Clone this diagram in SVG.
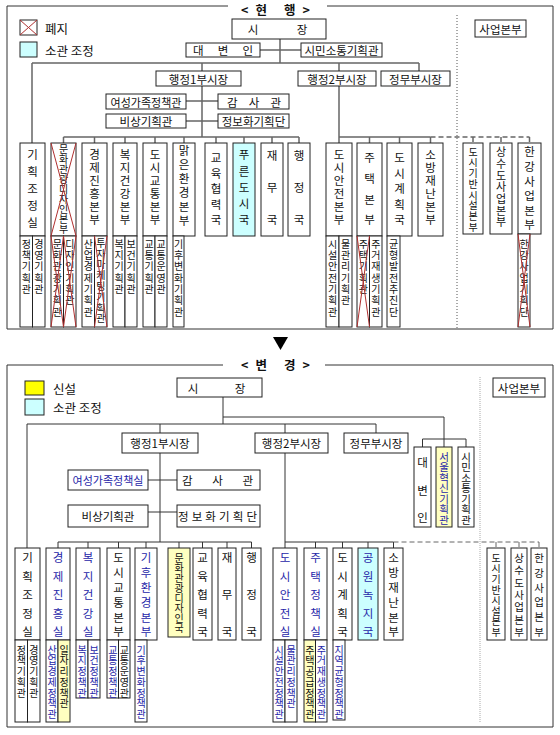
<svg xmlns="http://www.w3.org/2000/svg" width="560" height="735" viewBox="0 0 560 735">
<style>
text{font-family:"Noto Sans CJK KR","Noto Sans",sans-serif;fill:#111;dominant-baseline:central}
.b{fill:#fff;stroke:#222;stroke-width:1}
.c{fill:#ccffff}
.y{fill:#ffffc0}
.h{font-size:11.5px;text-anchor:middle}
.v{font-size:11.5px;writing-mode:vertical-rl;text-anchor:start}
.s{font-size:10px;writing-mode:vertical-rl;text-anchor:start;letter-spacing:1.3px}
.s2{font-size:10px;writing-mode:vertical-rl;text-anchor:start;letter-spacing:0.7px}
.lg{font-size:12.5px}
.ttl{font-size:12.5px;font-weight:bold}
.bl{fill:#2626a8}
.x{stroke:#b03030;stroke-width:1;fill:none}
.ln{stroke:#666;stroke-width:1.5;fill:none}
.ln2{stroke:#333;stroke-width:1;fill:none}
.dash{stroke-dasharray:5,3}
.frame{stroke:#333;stroke-width:1;fill:none}
.dot{stroke:#555;stroke-width:1;stroke-dasharray:1,2;fill:none}
.dot2{stroke:#aaa;stroke-width:1;stroke-dasharray:1,1;fill:none}
</style>
<rect width="560" height="735" fill="#fff"/>

<!-- ================= TOP CHART (현행) ================= -->
<g id="frame-top">
<path class="frame" d="M228,6 H7 V329 H553 V6 H327"/>
<text class="ttl" x="241" y="9.5" textLength="69" lengthAdjust="spacing">&lt;현 행&gt;</text>
<path class="dot" d="M457,15 V328"/>
</g>
<g id="legend-top">
<rect class="b" x="20" y="20" width="17" height="15"/>
<path class="x" d="M20,20 L37,35 M37,20 L20,35"/>
<text class="lg" x="45" y="28">폐지</text>
<rect class="b c" x="20" y="42" width="17" height="15"/>
<text class="lg" x="45" y="50">소관 조정</text>
</g>

<g id="connectors-top">
<path class="ln" d="M280,39 V63 M260,50 H301 M32,63 H419 M32,63 V143 M202,63 V71 M339,63 V71 M419,63 V71"/>
<path class="ln" d="M202,86 V137 M186,101 H218 M186,121 H218"/>
<path class="ln" d="M63.5,137 H299 M63.5,137 V143 M94.5,137 V143 M125,137 V143 M155,137 V143 M184,137 V143 M216,137 V143 M244,137 V143 M272,137 V143 M299,137 V143"/>
<path class="ln" d="M339,86 V143 M339,137 H430.5 M369.5,137 V143 M399.5,137 V143 M430.5,137 V143"/>
<path class="ln dash" d="M430.5,137 H529.5 M473,137 V143 M501,137 V143 M529.5,137 V143"/>
</g>

<g id="t-mayor"><rect class="b" x="232" y="19" width="94" height="20"/><text class="h" x="279" y="29"><tspan x="253">시</tspan><tspan x="302">장</tspan></text></g>
<g id="t-spokesman"><rect class="b" x="186" y="43" width="74" height="14"/><text class="h" x="193" y="50" style="text-anchor:start" textLength="60" lengthAdjust="spacing">대 변 인</text></g>
<g id="t-civic"><rect class="b" x="301" y="43" width="81" height="14"/><text class="h" x="341.5" y="50">시민소통기획관</text></g>
<g id="t-vm1"><rect class="b" x="156" y="71" width="85" height="15"/><text class="h" x="198.5" y="78.5">행정1부시장</text></g>
<g id="t-vm2"><rect class="b" x="298" y="71" width="78" height="15"/><text class="h" x="337" y="78.5">행정2부시장</text></g>
<g id="t-vmp"><rect class="b" x="381" y="71" width="69" height="15"/><text class="h" x="415.5" y="78.5">정무부시장</text></g>
<g id="t-biz"><rect class="b" x="475" y="20" width="51" height="17"/><text class="h" x="500.5" y="28.5">사업본부</text></g>
<g id="t-women"><rect class="b" x="106" y="94" width="80" height="15"/><text class="h" x="146" y="101.5" style="font-size:11px">여성가족정책관</text></g>
<g id="t-audit"><rect class="b" x="218" y="94" width="71" height="15"/><text class="h" x="227" y="101.5" style="text-anchor:start" textLength="54" lengthAdjust="spacing">감 사 관</text></g>
<g id="t-emerg"><rect class="b" x="106" y="114" width="80" height="14"/><text class="h" x="146" y="121">비상기획관</text></g>
<g id="t-info"><rect class="b" x="218" y="114" width="71" height="14"/><text class="h" x="253.5" y="121">정보화기획단</text></g>

<g id="t-plan">
<rect class="b" x="20" y="143" width="25" height="93"/>
<text class="v" x="32.5" y="149.25" style="letter-spacing:5.5px">기획조정실</text>
<rect class="b" x="20" y="236" width="12.5" height="91"/><rect class="b" x="32.5" y="236" width="12.5" height="91"/>
<text class="s" x="26.25" y="239">정책기획관</text>
<text class="s" x="38.75" y="239">경영기획관</text>
</g>
<g id="t-culture">
<rect class="b" x="51" y="143" width="25" height="93"/>
<text class="v" x="63.5" y="144" style="font-size:10px">문화관광디자인본부</text>
<rect class="b" x="51" y="236" width="12.5" height="91"/><rect class="b" x="63.5" y="236" width="12.5" height="91"/>
<text class="s" x="57.25" y="239">문화관광기획관</text>
<text class="s" x="69.75" y="239">디자인기획관</text>
<path class="x" d="M51,143 L76,236 M76,143 L51,236 M51,236 L63.5,327 M63.5,236 L51,327 M63.5,236 L76,327 M76,236 L63.5,327"/>
</g>
<g id="t-economy">
<rect class="b" x="82" y="143" width="25" height="93"/>
<text class="v" x="94.5" y="149.25" style="letter-spacing:1.5px">경제진흥본부</text>
<rect class="b" x="82" y="236" width="12.5" height="91"/><rect class="b" x="94.5" y="236" width="12.5" height="91"/>
<text class="s" x="88.25" y="239">산업경제기획관</text>
<text class="s" x="100.75" y="238" style="letter-spacing:0.8px">투자마케팅기획관</text>
<path class="x" d="M94.5,236 L107,327 M107,236 L94.5,327"/>
</g>
<g id="t-welfare">
<rect class="b" x="113" y="143" width="24" height="93"/>
<text class="v" x="125" y="149.25" style="letter-spacing:1.5px">복지건강본부</text>
<rect class="b" x="113" y="236" width="12" height="91"/><rect class="b" x="125" y="236" width="12" height="91"/>
<text class="s" x="119" y="239">복지기획관</text>
<text class="s" x="131" y="239">보건기획관</text>
</g>
<g id="t-transport">
<rect class="b" x="143" y="143" width="24" height="93"/>
<text class="v" x="155" y="149.25" style="letter-spacing:1.5px">도시교통본부</text>
<rect class="b" x="143" y="236" width="12" height="91"/><rect class="b" x="155" y="236" width="12" height="91"/>
<text class="s" x="149" y="239">교통기획관</text>
<text class="s" x="161" y="239">교통운영관</text>
</g>
<g id="t-env">
<rect class="b" x="173" y="143" width="22" height="93"/>
<text class="v" x="184" y="144.5" style="letter-spacing:2.5px">맑은환경본부</text>
<rect class="b" x="173" y="236" width="11" height="91"/>
<text class="s" x="178.5" y="239">기후변화기획관</text>
</g>
<g id="t-edu"><rect class="b" x="205" y="143" width="22" height="93"/>
<text class="v" x="216" y="152.25" style="letter-spacing:4px">교육협력국</text></g>
<g id="t-green"><rect class="b c" x="233" y="143" width="22" height="93"/>
<text class="v" x="244" y="149.25" style="letter-spacing:4.75px">푸른도시국</text></g>
<g id="t-finance"><rect class="b" x="261" y="143" width="22" height="93"/>
<text class="v" x="272" y="150.25" style="letter-spacing:20.5px">재무국</text></g>
<g id="t-admin"><rect class="b" x="288" y="143" width="22" height="93"/>
<text class="v" x="299" y="150.25" style="letter-spacing:20.5px">행정국</text></g>
<g id="t-safety">
<rect class="b" x="326" y="143" width="26" height="93"/>
<text class="v" x="339" y="149.25" style="letter-spacing:1.5px">도시안전본부</text>
<rect class="b" x="326" y="236" width="13" height="91"/><rect class="b" x="339" y="236" width="13" height="91"/>
<text class="s" x="332.5" y="239">시설안전기획관</text>
<text class="s" x="345.5" y="239">물관리기획관</text>
</g>
<g id="t-housing">
<rect class="b" x="357" y="143" width="25" height="93"/>
<text class="v" x="369.5" y="152.25" style="letter-spacing:9.2px">주택본부</text>
<rect class="b" x="357" y="236" width="12.5" height="91"/><rect class="b" x="369.5" y="236" width="12.5" height="91"/>
<text class="s" x="363.25" y="239">주택기획관</text>
<text class="s" x="375.75" y="239">주거재생기획관</text>
<path class="x" d="M357,236 L369.5,327 M369.5,236 L357,327"/>
</g>
<g id="t-cityplan">
<rect class="b" x="387" y="143" width="25" height="93"/>
<text class="v" x="399.5" y="152.25" style="letter-spacing:4px">도시계획국</text>
<rect class="b" x="387" y="236" width="13" height="91"/>
<text class="s" x="393.5" y="239">균형발전추진단</text>
</g>
<g id="t-fire"><rect class="b" x="418" y="143" width="25" height="93"/>
<text class="v" x="430.5" y="149.25" style="letter-spacing:1.5px">소방재난본부</text></g>
<g id="t-infra"><rect class="b" x="463" y="143" width="20" height="91"/>
<text class="v" x="473" y="147" style="font-size:10px;letter-spacing:0.7px">도시기반시설본부</text></g>
<g id="t-water"><rect class="b" x="490" y="143" width="22" height="91"/>
<text class="v" x="501" y="146.5" style="font-size:11px;letter-spacing:0.67px">상수도사업본부</text></g>
<g id="t-hangang">
<rect class="b" x="518" y="143" width="23" height="91"/>
<text class="v" x="529.5" y="146.25" style="letter-spacing:3.1px">한강사업본부</text>
<rect class="b" x="518" y="234" width="12" height="93"/>
<text class="s" x="524" y="239">한강사업기획단</text>
<path class="x" d="M518,234 L530,327 M530,234 L518,327"/>
</g>

<!-- arrow -->
<polygon points="273,337 288,337 280.5,350" fill="#000"/>

<!-- ================= BOTTOM CHART (변경) ================= -->
<g id="frame-bottom">
<path class="frame" d="M223,365 H7 V727 H553 V365 H325"/>
<text class="ttl" x="241" y="364" textLength="69" lengthAdjust="spacing">&lt;변 경&gt;</text>
<path class="dot2" d="M480,377 V722"/>
</g>
<g id="legend-bottom">
<rect x="25" y="381" width="19" height="14" fill="#ffff00" stroke="#222"/>
<text class="lg" x="53" y="388">신설</text>
<rect class="b c" x="25" y="399" width="19" height="16"/>
<text class="lg" x="53" y="407">소관 조정</text>
</g>

<g id="connectors-bottom">
<path class="ln2" d="M223,397 V424 M223,417 H444 V447 M422.5,439 H466 M422.5,439 V447 M466,439 V447"/>
<path class="ln2" d="M27,424 H376 M27,424 V548 M160,424 V433 M285,424 V433 M376,424 V433"/>
<path class="ln2" d="M160,453 V542 M148,480 H177 M148,512 H177"/>
<path class="ln2" d="M58,542 H251.5 M58,542 V548 M88,542 V548 M118.5,542 V548 M146,542 V548 M179,542 V548 M202.5,542 V548 M227,542 V548 M251.5,542 V548"/>
<path class="ln2" d="M285,453 V548 M285,542 H393.5 M315.5,542 V548 M342.5,542 V548 M368,542 V548 M393.5,542 V548"/>
<path class="ln2 dash" d="M393.5,542 H539 M496,542 V548 M519,542 V548 M539,542 V548" style="stroke:#666"/>
</g>

<g id="b-mayor"><rect class="b" x="177" y="378" width="85" height="19"/><text class="h" x="219" y="387.5"><tspan x="193">시</tspan><tspan x="240">장</tspan></text></g>
<g id="b-biz"><rect class="b" x="493" y="378" width="52" height="19"/><text class="h" x="519" y="387.5">사업본부</text></g>
<g id="b-vm1"><rect class="b" x="122" y="433" width="76" height="20"/><text class="h" x="160" y="443">행정1부시장</text></g>
<g id="b-vm2"><rect class="b" x="255" y="433" width="73" height="20"/><text class="h" x="291.5" y="443">행정2부시장</text></g>
<g id="b-vmp"><rect class="b" x="344" y="433" width="64" height="20"/><text class="h" x="376" y="443">정무부시장</text></g>
<g id="b-women"><rect class="b" x="68" y="470" width="80" height="20"/><text class="h bl" x="108" y="480" style="font-size:11px">여성가족정책실</text></g>
<g id="b-audit"><rect class="b" x="177" y="470" width="83" height="20"/><text class="h" x="182" y="480" style="text-anchor:start" textLength="71" lengthAdjust="spacing">감 사 관</text></g>
<g id="b-emerg"><rect class="b" x="68" y="505" width="80" height="22"/><text class="h" x="108" y="516">비상기획관</text></g>
<g id="b-info"><rect class="b" x="177" y="505" width="83" height="22"/><text class="h" x="178" y="516" style="text-anchor:start" textLength="79" lengthAdjust="spacing">정보화기획단</text></g>

<g id="b-spokesman"><rect class="b" x="414" y="447" width="17" height="80"/>
<text class="v" x="422.5" y="457.25" style="letter-spacing:16px">대변인</text></g>
<g id="b-innov"><rect class="b y" x="436" y="447" width="16" height="80"/>
<text class="v bl" x="444" y="451.75" style="font-size:10.5px">서울혁신기획관</text></g>
<g id="b-civic"><rect class="b" x="458" y="447" width="16" height="80"/>
<text class="v" x="466" y="451.75" style="font-size:10.5px">시민소통기획관</text></g>

<g id="b-plan">
<rect class="b" x="15" y="548" width="25" height="92"/>
<text class="v" x="27.5" y="552.25" style="letter-spacing:7px">기획조정실</text>
<rect class="b" x="15" y="640" width="12.5" height="82"/><rect class="b" x="27.5" y="640" width="12.5" height="82"/>
<text class="s2" x="21.25" y="645">정책기획관</text>
<text class="s2" x="33.75" y="645">경영기획관</text>
</g>
<g id="b-economy">
<rect class="b" x="46" y="548" width="24" height="92"/>
<text class="v bl" x="58" y="552.25" style="letter-spacing:7px">경제진흥실</text>
<rect class="b" x="46" y="640" width="12" height="82"/><rect class="b y" x="58" y="640" width="12" height="82"/>
<text class="s2 bl" x="52" y="645">산업경제정책관</text>
<text class="s2" x="64" y="645">일자리정책관</text>
</g>
<g id="b-welfare">
<rect class="b" x="76" y="548" width="24" height="92"/>
<text class="v bl" x="88" y="552.25" style="letter-spacing:7px">복지건강실</text>
<rect class="b" x="76" y="640" width="12" height="58"/><rect class="b" x="88" y="640" width="12" height="58"/>
<text class="s2 bl" x="82" y="645">복지정책관</text>
<text class="s2 bl" x="94" y="645">보건정책관</text>
</g>
<g id="b-transport">
<rect class="b" x="107" y="548" width="23" height="92"/>
<text class="v" x="118.5" y="552.25" style="letter-spacing:3.3px">도시교통본부</text>
<rect class="b" x="107" y="640" width="11.5" height="58"/><rect class="b" x="118.5" y="640" width="11.5" height="58"/>
<text class="s2 bl" x="112.75" y="645">교통정책관</text>
<text class="s2" x="124.25" y="645">교통운영관</text>
</g>
<g id="b-climate">
<rect class="b" x="135" y="548" width="22" height="92"/>
<text class="v bl" x="146" y="552.25" style="letter-spacing:3.3px">기후환경본부</text>
<rect class="b" x="135" y="640" width="12" height="82"/>
<text class="s2 bl" x="141" y="645">기후변화정책관</text>
</g>
<g id="b-culture"><rect class="b y" x="168" y="548" width="22" height="89"/>
<text class="v" x="179" y="553" style="font-size:10px">문화관광디자인국</text></g>
<g id="b-edu"><rect class="b" x="193" y="548" width="19" height="92"/>
<text class="v" x="202.5" y="552.25" style="letter-spacing:7px">교육협력국</text></g>
<g id="b-finance"><rect class="b" x="218" y="548" width="18" height="92"/>
<text class="v" x="227" y="552.25" style="letter-spacing:25.5px">재무국</text></g>
<g id="b-admin"><rect class="b" x="242" y="548" width="19" height="92"/>
<text class="v" x="251.5" y="552.25" style="letter-spacing:25.5px">행정국</text></g>
<g id="b-safety">
<rect class="b" x="273" y="548" width="24" height="92"/>
<text class="v bl" x="285" y="552.25" style="letter-spacing:7px">도시안전실</text>
<rect class="b" x="273" y="640" width="12" height="82"/><rect class="b" x="285" y="640" width="12" height="82"/>
<text class="s2 bl" x="279" y="645">시설안전정책관</text>
<text class="s2 bl" x="291" y="645">물관리정책관</text>
</g>
<g id="b-housing">
<rect class="b" x="304" y="548" width="23" height="92"/>
<text class="v bl" x="315.5" y="552.25" style="letter-spacing:7px">주택정책실</text>
<rect class="b y" x="304" y="640" width="11.5" height="82"/><rect class="b" x="315.5" y="640" width="11.5" height="82"/>
<text class="s2" x="309.75" y="645">주택공급정책관</text>
<text class="s2 bl" x="321.25" y="645">주거재생정책관</text>
</g>
<g id="b-cityplan">
<rect class="b" x="333" y="548" width="19" height="92"/>
<text class="v" x="342.5" y="552.25" style="letter-spacing:7px">도시계획국</text>
<rect class="b" x="333" y="640" width="12" height="80"/>
<text class="s2 bl" x="339" y="645">지역균형정책관</text>
</g>
<g id="b-park"><rect class="b c" x="358" y="548" width="20" height="92"/>
<text class="v bl" x="368" y="552.25" style="letter-spacing:7px">공원녹지국</text></g>
<g id="b-fire"><rect class="b" x="384" y="548" width="19" height="92"/>
<text class="v" x="393.5" y="552.25" style="letter-spacing:3.3px">소방재난본부</text></g>
<g id="b-infra"><rect class="b" x="487" y="548" width="18" height="92"/>
<text class="v" x="496" y="553" style="font-size:10px;letter-spacing:0.57px">도시기반시설본부</text></g>
<g id="b-water"><rect class="b" x="511" y="548" width="16" height="92"/>
<text class="v" x="519" y="552.75" style="font-size:10.5px;letter-spacing:1.83px">상수도사업본부</text></g>
<g id="b-hangang"><rect class="b" x="531" y="548" width="16" height="92"/>
<text class="v" x="539" y="552.75" style="font-size:10.5px;letter-spacing:4.3px">한강사업본부</text></g>
</svg>
